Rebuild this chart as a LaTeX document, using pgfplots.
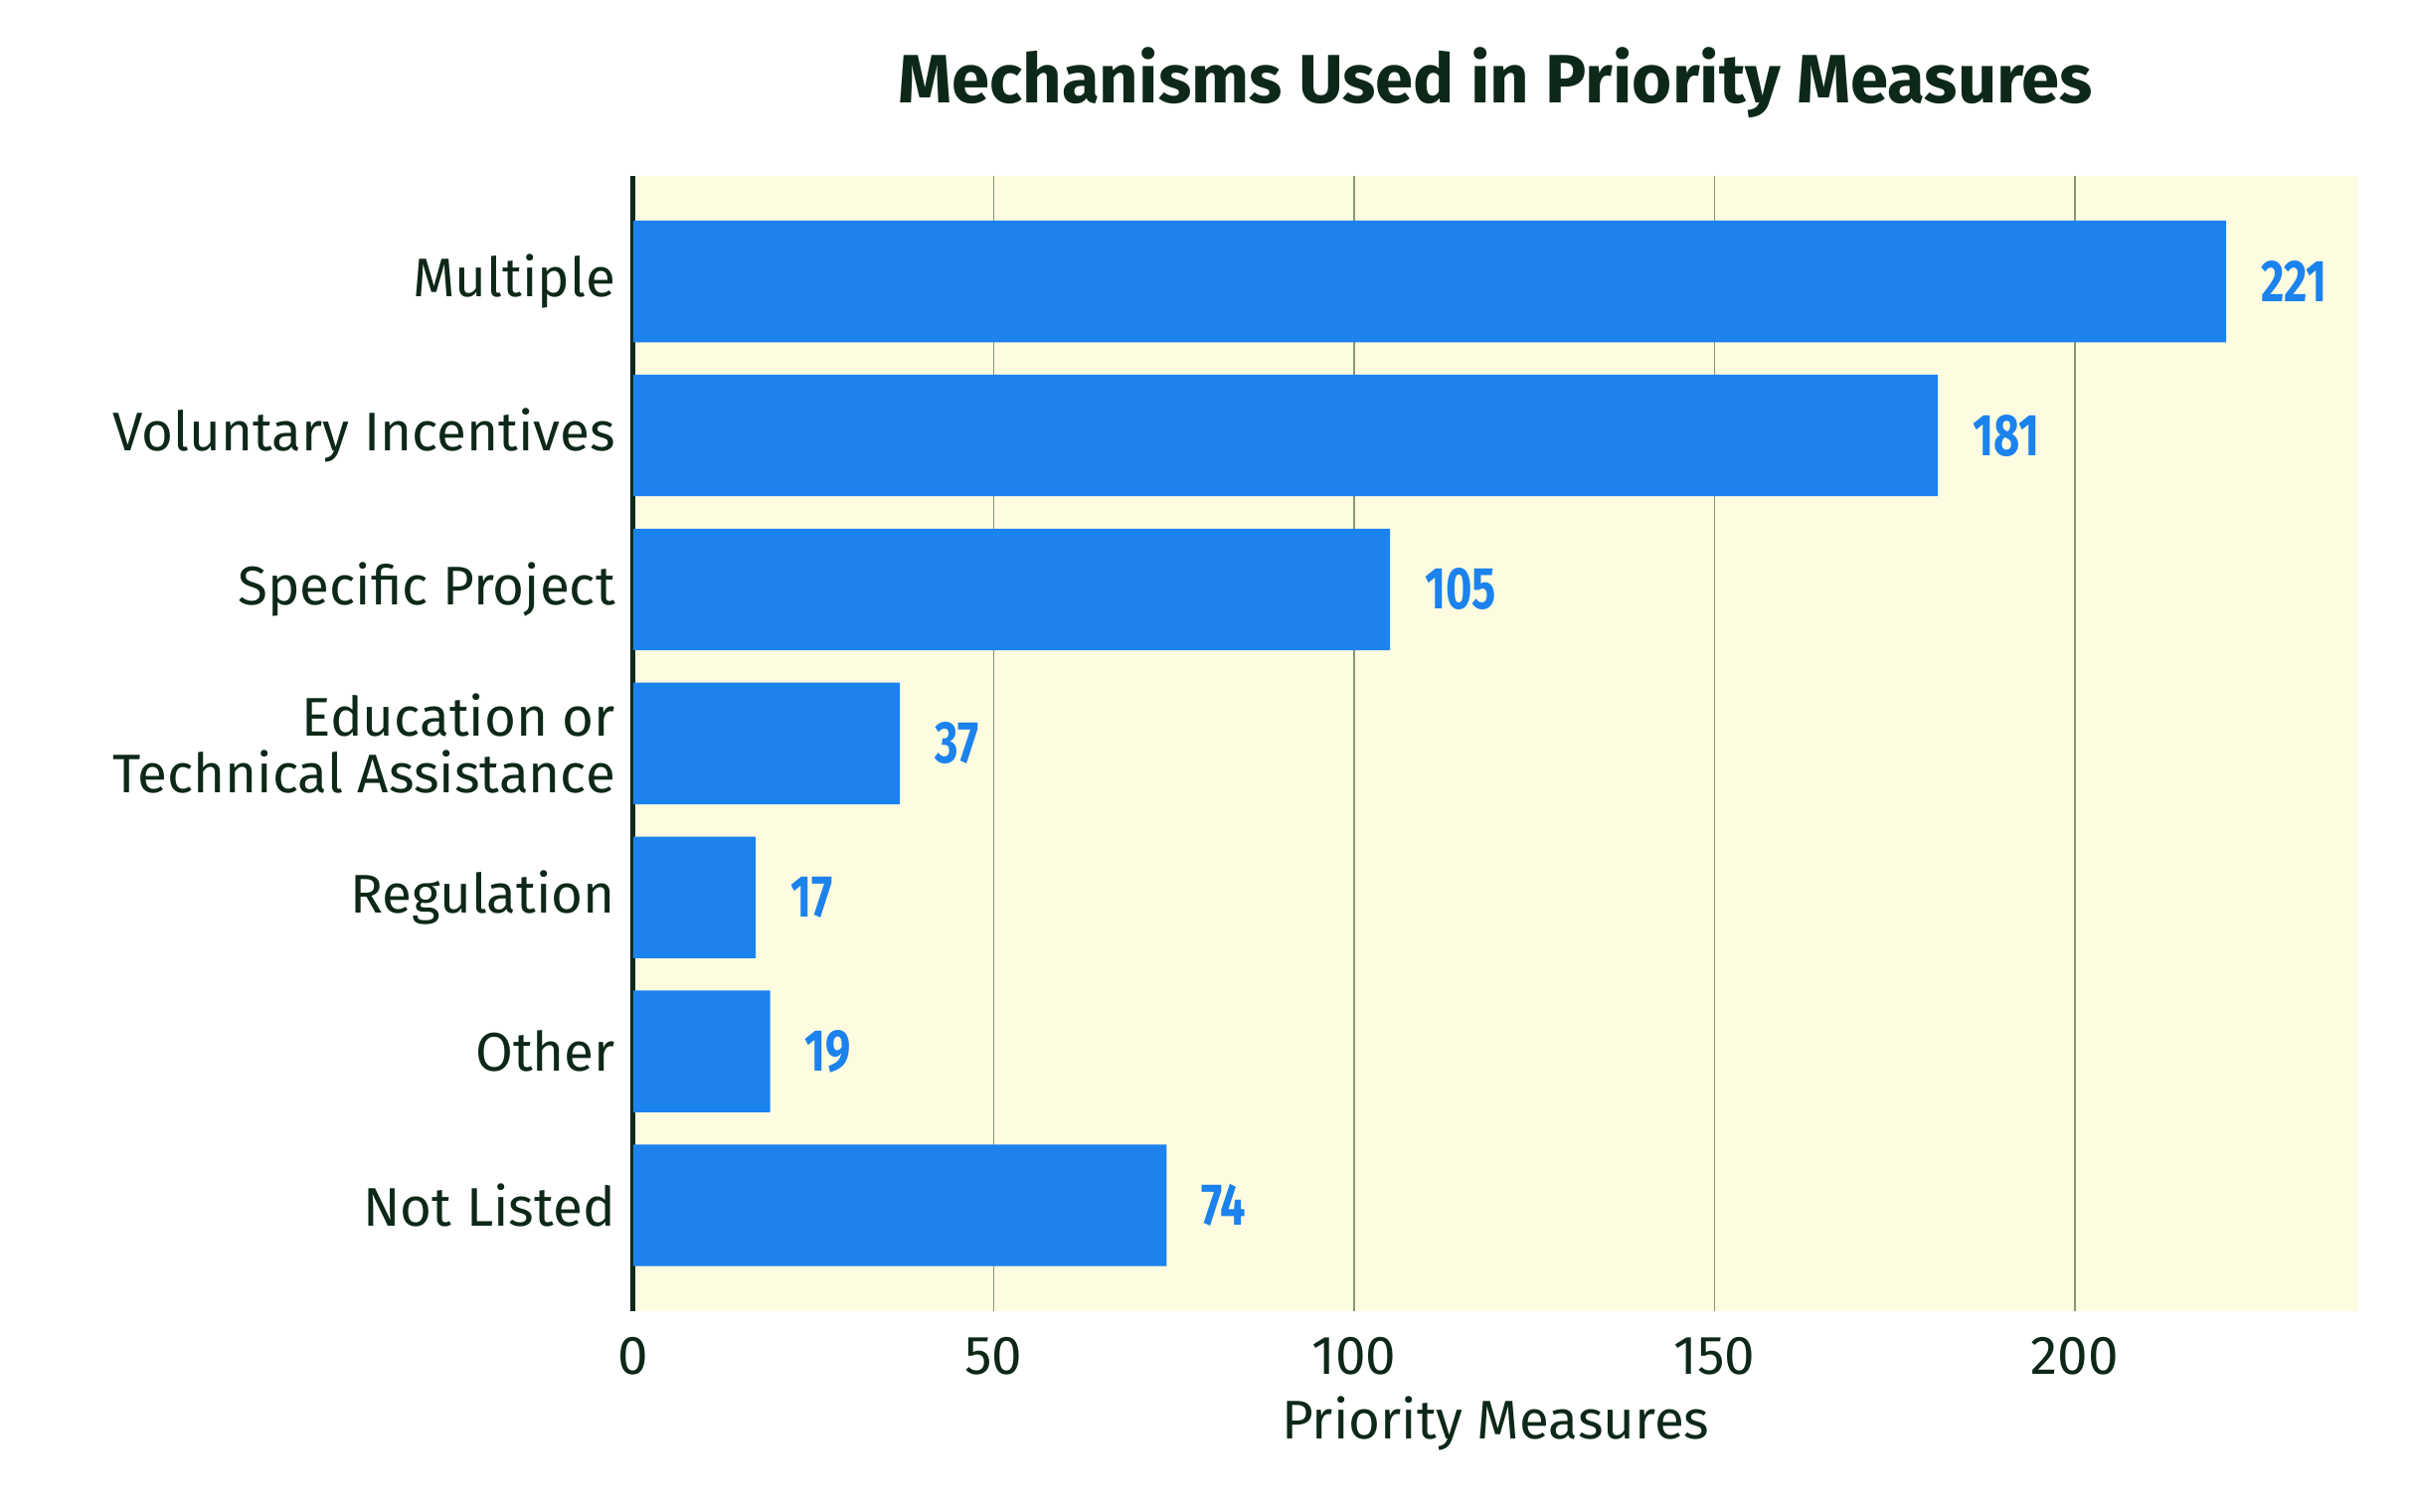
\documentclass[border=0pt]{standalone}
\usepackage{fontspec}
\setmainfont{Fira Sans}
\newfontfamily\valfont[FakeStretch=0.76]{Fira Sans}
\usepackage{pgfplots}
\pgfplotsset{compat=1.18}
\definecolor{barblue}{RGB}{27,130,238}
\definecolor{bgyellow}{RGB}{254,252,224}
\definecolor{gridcol}{RGB}{136,152,118}
\definecolor{darktext}{RGB}{13,40,24}
\begin{document}
\begin{tikzpicture}
\begin{axis}[
    name=ax,
    scale only axis,
    width=554.5pt, height=365pt,
    xbar, bar width=0.79,
    xmin=0, xmax=239.3,
    ymin=-0.687, ymax=6.687,
    axis lines*=left,
    x axis line style={draw=none},
    y axis line style={line width=1.6pt, draw=darktext, -},
    axis background/.style={fill=bgyellow},
    major tick length=0pt,
    xtick={0,50,100,150,200},
    xmajorgrids,
    grid style={line width=0.5pt, gridcol},
    ytick={0,...,6},
    yticklabels={Not Listed,Other,Regulation,{Education or\\Technical Assistance},Specific Project,Voluntary Incentives,Multiple},
    /pgf/number format/assume math mode=true,
    ticklabel style={font=\fontsize{17.5}{18.2}\selectfont, text=darktext},
    xticklabel style={anchor=center, yshift=-14.5pt},
    yticklabel style={anchor=east, inner sep=0pt, xshift=-5.5pt, align=right},
    xlabel={Priority Measures},
    xlabel style={font=\fontsize{17.5}{18.5}\selectfont, text=darktext, at={(axis description cs:0.5,0)}, anchor=center, yshift=-36pt},
    title={Mechanisms Used in Priority Measures},
    title style={font=\bfseries\fontsize{22}{26}\selectfont, text=darktext, at={(axis description cs:0.5,1)}, anchor=center, yshift=24pt},
    nodes near coords,
    nodes near coords style={font=\valfont\bfseries\fontsize{19}{19}\selectfont, text=barblue, anchor=west, inner sep=0pt, xshift=11pt},
]
\addplot[draw=none, fill=barblue] coordinates {(221,6) (181,5) (105,4) (37,3) (17,2) (19,1) (74,0)};
\end{axis}
\pgfresetboundingbox
\path[use as bounding box] ([shift={(-203.5pt,-64.5pt)}]ax.south west) rectangle ([shift={(17pt,56.5pt)}]ax.north east);
\end{tikzpicture}
\end{document}
